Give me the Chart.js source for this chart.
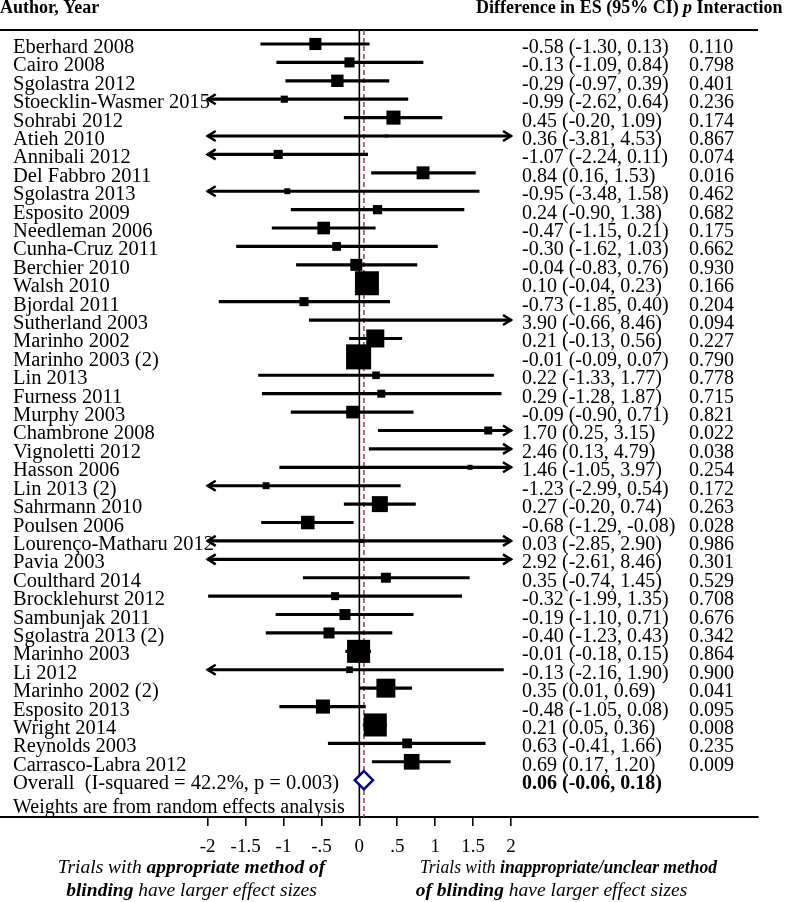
<!DOCTYPE html>
<html>
<head>
<meta charset="utf-8">
<title>Forest plot - blinding</title>
<script src="https://cdn.jsdelivr.net/npm/chart.js@4.4.1/dist/chart.umd.min.js"></script>
<style>
  html, body { margin: 0; padding: 0; background: #fff; }
  #wrap { width: 787px; height: 902px; }
</style>
</head>
<body>
<div id="wrap"><canvas id="forest" width="787" height="902"></canvas></div>
<script>
// study rows, top to bottom
const studies = [
  'Eberhard 2008', 'Cairo 2008', 'Sgolastra 2012', 'Stoecklin-Wasmer 2015', 'Sohrabi 2012',
  'Atieh 2010', 'Annibali 2012', 'Del Fabbro 2011', 'Sgolastra 2013', 'Esposito 2009',
  'Needleman 2006', 'Cunha-Cruz 2011', 'Berchier 2010', 'Walsh 2010', 'Bjordal 2011',
  'Sutherland 2003', 'Marinho 2002', 'Marinho 2003 (2)', 'Lin 2013', 'Furness 2011',
  'Murphy 2003', 'Chambrone 2008', 'Vignoletti 2012', 'Hasson 2006', 'Lin 2013 (2)',
  'Sahrmann 2010', 'Poulsen 2006', 'Lourenço-Matharu 2012', 'Pavia 2003', 'Coulthard 2014',
  'Brocklehurst 2012', 'Sambunjak 2011', 'Sgolastra 2013 (2)', 'Marinho 2003', 'Li 2012',
  'Marinho 2002 (2)', 'Esposito 2013', 'Wright 2014', 'Reynolds 2003', 'Carrasco-Labra 2012'
];
const es = [
  -0.58, -0.13, -0.29, -0.99, 0.45, 0.36, -1.07, 0.84, -0.95, 0.24,
  -0.47, -0.30, -0.04, 0.10, -0.73, 3.90, 0.21, -0.01, 0.22, 0.29,
  -0.09, 1.70, 2.46, 1.46, -1.23, 0.27, -0.68, 0.03, 2.92, 0.35,
  -0.32, -0.19, -0.40, -0.01, -0.13, 0.35, -0.48, 0.21, 0.63, 0.69
];
const ciLow = [
  -1.30, -1.09, -0.97, -2.62, -0.20, -3.81, -2.24, 0.16, -3.48, -0.90,
  -1.15, -1.62, -0.83, -0.04, -1.85, -0.66, -0.13, -0.09, -1.33, -1.28,
  -0.90, 0.25, 0.13, -1.05, -2.99, -0.20, -1.29, -2.85, -2.61, -0.74,
  -1.99, -1.10, -1.23, -0.18, -2.16, 0.01, -1.05, 0.05, -0.41, 0.17
];
const ciHigh = [
  0.13, 0.84, 0.39, 0.64, 1.09, 4.53, 0.11, 1.53, 1.58, 1.38,
  0.21, 1.03, 0.76, 0.23, 0.40, 8.46, 0.56, 0.07, 1.77, 1.87,
  0.71, 3.15, 4.79, 3.97, 0.54, 0.74, -0.08, 2.90, 8.46, 1.45,
  1.35, 0.71, 0.43, 0.15, 1.90, 0.69, 0.08, 0.36, 1.66, 1.20
];
const pInteraction = [
  0.110, 0.798, 0.401, 0.236, 0.174, 0.867, 0.074, 0.016, 0.462, 0.682,
  0.175, 0.662, 0.930, 0.166, 0.204, 0.094, 0.227, 0.790, 0.778, 0.715,
  0.821, 0.022, 0.038, 0.254, 0.172, 0.263, 0.028, 0.986, 0.301, 0.529,
  0.708, 0.676, 0.342, 0.864, 0.900, 0.041, 0.095, 0.008, 0.235, 0.009
];
// random effects weights (%)
const weights = [
  2.3, 1.6, 2.4, 0.8, 3.1, 0.15, 1.3, 2.6, 0.55, 1.35,
  2.5, 1.2, 2.25, 9.0, 1.3, 0.4, 5.1, 9.8, 0.9, 1.0,
  2.5, 1.0, 0.6, 0.4, 0.75, 4.0, 2.85, 0.25, 0.15, 1.55,
  1.0, 1.9, 1.9, 8.3, 0.7, 5.6, 3.1, 8.3, 1.5, 3.85
];
const overall = [0.06, -0.06, 0.18];   // es, low, high
const overallI2 = 42.2;
const overallP = 0.003;

const tickValues = [-2, -1.5, -1, -0.5, 0, 0.5, 1, 1.5, 2];
const tickLabels = ['-2', '-1.5', '-1', '-.5', '0', '.5', '1', '1.5', '2'];
const axisMin = -2, axisMax = 2;

const SERIF = '"Liberation Serif", "Times New Roman", serif';
Chart.defaults.font.family = SERIF;
Chart.defaults.color = '#000';

const nRows = studies.length;
const clip = v => Math.max(axisMin, Math.min(axisMax, v));

const ciBars = studies.map((s, i) => ({ x: [clip(ciLow[i]), clip(ciHigh[i])], y: i }));
const boxes = [];
studies.forEach((s, i) => {
  if (es[i] >= axisMin && es[i] <= axisMax) boxes.push({ x: es[i], y: i, w: weights[i] });
});

// draws mixed-font text; optional fitWidth squeezes the line horizontally
function drawRuns(ctx, parts, x, y, align, fitWidth) {
  let total = 0;
  parts.forEach(p => { ctx.font = p[1]; total += ctx.measureText(p[0]).width; });
  const k = fitWidth ? fitWidth / total : 1;
  ctx.save();
  ctx.translate(align === 'center' ? x - total * k / 2 : x, y);
  ctx.scale(k, 1);
  let cx = 0;
  parts.forEach(p => {
    ctx.font = p[1];
    ctx.fillText(p[0], cx, 0);
    cx += ctx.measureText(p[0]).width;
  });
  ctx.restore();
}

const forestDecor = {
  id: 'forestDecor',
  beforeDatasetsDraw(chart) {
    const { ctx, chartArea: a, scales: { x } } = chart;
    ctx.save();
    // top rule
    ctx.strokeStyle = '#000';
    ctx.lineWidth = 2;
    ctx.beginPath();
    ctx.moveTo(a.left, a.top);
    ctx.lineTo(a.right, a.top);
    ctx.stroke();
    // null line
    const x0 = x.getPixelForValue(0);
    ctx.lineWidth = 1.6;
    ctx.beginPath();
    ctx.moveTo(x0, a.top);
    ctx.lineTo(x0, a.bottom);
    ctx.stroke();
    // overall effect line
    const xo = x.getPixelForValue(overall[0]);
    ctx.strokeStyle = '#a23a48';
    ctx.lineWidth = 1.5;
    ctx.setLineDash([5, 3]);
    ctx.beginPath();
    ctx.moveTo(xo, a.top);
    ctx.lineTo(xo, a.bottom);
    ctx.stroke();
    ctx.restore();
  },
  afterDatasetsDraw(chart) {
    const { ctx, scales: { x, y } } = chart;
    ctx.save();
    ctx.strokeStyle = '#000';
    ctx.lineWidth = 2.5;
    studies.forEach((s, i) => {
      const py = y.getPixelForValue(i);
      if (ciLow[i] < axisMin) {
        const px = x.getPixelForValue(axisMin);
        ctx.beginPath();
        ctx.moveTo(px + 8, py - 5);
        ctx.lineTo(px, py);
        ctx.lineTo(px + 8, py + 5);
        ctx.stroke();
      }
      if (ciHigh[i] > axisMax) {
        const px = x.getPixelForValue(axisMax);
        ctx.beginPath();
        ctx.moveTo(px - 8, py - 5);
        ctx.lineTo(px, py);
        ctx.lineTo(px - 8, py + 5);
        ctx.stroke();
      }
    });
    ctx.restore();
  },
  afterDraw(chart) {
    const { ctx, scales: { y } } = chart;
    const fmt = v => v.toFixed(2);
    ctx.save();
    ctx.fillStyle = '#000';
    ctx.textBaseline = 'alphabetic';
    ctx.textAlign = 'left';

    // headers
    ctx.font = 'bold 18px ' + SERIF;
    ctx.fillText('Author, Year', 0, 13);
    ctx.fillText('Difference in ES (95% CI)', 476, 13);
    drawRuns(ctx, [['p', 'italic bold 18px ' + SERIF], [' Interaction', 'bold 18px ' + SERIF]], 683, 13, 'left');

    // rows
    studies.forEach((s, i) => {
      const py = y.getPixelForValue(i) + 9;
      ctx.font = '20.5px ' + SERIF;
      ctx.fillText(s, 13, py);
      ctx.font = '20px ' + SERIF;
      ctx.fillText(fmt(es[i]) + ' (' + fmt(ciLow[i]) + ', ' + fmt(ciHigh[i]) + ')', 522, py);
      ctx.fillText(pInteraction[i].toFixed(3), 689, py);
    });

    // overall row
    const po = y.getPixelForValue(nRows) + 9;
    ctx.font = '20.5px ' + SERIF;
    ctx.fillText('Overall  (I-squared = ' + overallI2.toFixed(1) + '%, p = ' + overallP.toFixed(3) + ')', 13, po);
    ctx.font = 'bold 20px ' + SERIF;
    ctx.fillText(fmt(overall[0]) + ' (' + fmt(overall[1]) + ', ' + fmt(overall[2]) + ')', 522, po);

    ctx.font = '20px ' + SERIF;
    ctx.fillText('Weights are from random effects analysis', 13, 813);

    // direction notes under the axis
    const it = 'italic 19.5px ' + SERIF, bi = 'italic bold 19.5px ' + SERIF;
    drawRuns(ctx, [['Trials with ', it], ['appropriate method of', bi]], 191.5, 873, 'center');
    drawRuns(ctx, [['blinding', bi], [' have larger effect sizes', it]], 191.5, 896, 'center');
    drawRuns(ctx, [['Trials with ', it], ['inappropriate/unclear method', bi]], 568.5, 873, 'center', 297);
    drawRuns(ctx, [['of blinding', bi], [' have larger effect sizes', it]], 551.5, 896, 'center');
    ctx.restore();
  }
};

// pixel layout: -2 at x~208, 2 at x~511, plot spans 0..758
const pxPerUnit = (511 - 207.7) / 4;
const xMin = axisMin - 207.7 / pxPerUnit;
const xMax = axisMax + (758 - 511) / pxPerUnit;

new Chart(document.getElementById('forest'), {
  type: 'bar',
  data: {
    datasets: [
      {
        type: 'scatter',
        label: 'Overall',
        data: [{ x: overall[0], y: nRows }],
        pointStyle: 'rectRot',
        pointRadius: c => c.chart.scales.x.getPixelForValue(overall[2]) - c.chart.scales.x.getPixelForValue(overall[0]),
        pointBackgroundColor: '#fff',
        pointBorderColor: '#000080',
        pointBorderWidth: 2.5,
        order: 0
      },
      {
        type: 'scatter',
        label: 'Effect size',
        data: boxes,
        pointStyle: 'rect',
        pointRadius: c => 8 * Math.sqrt(c.raw.w) / Math.SQRT2,
        pointBackgroundColor: '#000',
        pointBorderWidth: 0,
        order: 1
      },
      {
        type: 'bar',
        label: '95% CI',
        indexAxis: 'y',
        data: ciBars,
        backgroundColor: '#000',
        barThickness: 2.5,
        borderWidth: 0,
        order: 2
      }
    ]
  },
  options: {
    responsive: false,
    animation: false,
    indexAxis: 'y',
    layout: { autoPadding: false, padding: { top: 30, right: 29, left: 0, bottom: 0 } },
    plugins: {
      legend: { display: false },
      tooltip: { enabled: false },
      title: { display: false }
    },
    scales: {
      x: {
        type: 'linear',
        position: 'bottom',
        offset: false,
        min: xMin,
        max: xMax,
        afterBuildTicks: s => { s.ticks = tickValues.map(v => ({ value: v })); },
        afterFit: s => { s.height = 85; },
        ticks: {
          autoSkip: false,
          maxRotation: 0,
          padding: 10,
          color: '#000',
          font: { family: SERIF, size: 19 },
          callback: (v, i) => tickLabels[i]
        },
        grid: {
          display: true,
          offset: false,
          drawOnChartArea: false,
          drawTicks: true,
          tickLength: 9,
          color: '#000',
          lineWidth: 1.6
        },
        border: { display: true, color: '#000', width: 2 }
      },
      y: {
        type: 'linear',
        display: false,
        offset: false,
        reverse: true,
        min: -0.76,
        max: 42
      }
    }
  },
  plugins: [forestDecor]
});
</script>
</body>
</html>
